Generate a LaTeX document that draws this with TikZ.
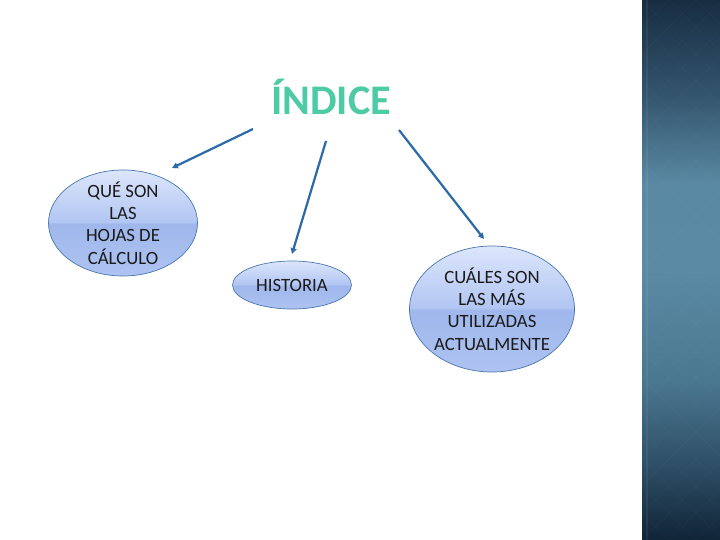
\documentclass[tikz,border=0pt]{standalone}
\usepackage{fontspec}
\setmainfont{Carlito}
\usepackage{xcolor}
\usepackage{tikz}
\usetikzlibrary{shapes.geometric,arrows.meta}
\definecolor{ink}{HTML}{1A1A1A}
\definecolor{arrowblue}{HTML}{2C6AA8}
\definecolor{edgeblue}{HTML}{4A78B0}
\definecolor{titlegreen}{HTML}{4CCBA5}
\definecolor{elltop}{HTML}{DCE6FB}
\definecolor{ellup}{HTML}{B2C6F3}
\definecolor{elllow}{HTML}{9FB7EC}
\definecolor{ellbot}{HTML}{AEC3F1}
\definecolor{panA}{HTML}{102437}
\definecolor{panB}{HTML}{2E4F66}
\definecolor{panC}{HTML}{4B7891}
\definecolor{panD}{HTML}{5A8AA4}
\definecolor{panE}{HTML}{5A89A3}
\definecolor{panF}{HTML}{34566E}
\definecolor{panG}{HTML}{172D42}
\pgfdeclareverticalshading{gloss}{100bp}{color(0bp)=(ellbot); color(25bp)=(ellbot);
  color(49.5bp)=(elllow); color(50.5bp)=(ellup); color(75bp)=(elltop); color(100bp)=(elltop)}
\pgfdeclareverticalshading{panel}{100bp}{color(0bp)=(panA); color(25bp)=(panA);
  color(32bp)=(panB); color(40bp)=(panC); color(50bp)=(panD); color(58bp)=(panE);
  color(66bp)=(panF); color(75bp)=(panG); color(100bp)=(panG)}
\tikzset{
  topic/.style={ellipse, draw=edgeblue, line width=0.6pt, shading=gloss, inner sep=0pt,
    align=center, text=ink, font=\fontsize{16}{19}\selectfont},
  link/.style={draw=arrowblue, line width=1.9pt, -{Triangle[length=5pt,width=5pt]}},
  title/.style={text=titlegreen, font=\fontsize{36}{40}\selectfont\bfseries},
  grid/.style={draw=white, opacity=0.025, line width=0.8pt},
}
\begin{document}
\begin{tikzpicture}[x=0.03cm,y=-0.03cm]
  \useasboundingbox (0,0) rectangle (720,540);
  \fill[white] (0,0) rectangle (720,540);

  % side panel
  \shade[shading=panel] (642,0) rectangle (720,540);
  \begin{scope}
    \clip (642,0) rectangle (720,540);
    \foreach \k in {-4,...,24}{
      \draw[grid] (642,\k*27) -- ++(100,100);
      \draw[grid] (642,\k*27) -- ++(100,-100);
    }
  \end{scope}
  \draw[draw=white, opacity=0.06, line width=1pt] (647,0) -- (647,540);

  \node[title] (indice) at (331,97) {ÍNDICE};

  \node[topic, inner ysep=-9pt, minimum width=4.47cm, minimum height=3.18cm] (hojas) at (123,223)
    {QUÉ SON\\LAS\\HOJAS DE\\CÁLCULO};
  \node[topic, minimum width=3.57cm, minimum height=1.44cm] (historia) at (292,285)
    {HISTORIA};
  \node[topic, minimum width=4.95cm, minimum height=3.78cm] (cuales) at (492,309)
    {CUÁLES SON\\LAS MÁS\\UTILIZADAS\\ACTUALMENTE};

  \coordinate (s1) at (253,129);
  \coordinate (e1) at (172,168);
  \coordinate (s2) at (326,141);
  \coordinate (e2) at (292,254);
  \coordinate (s3) at (399,130);
  \coordinate (e3) at (484,239);
  \foreach \i in {1,2,3}{
    \draw[link] (s\i) -- (e\i);
  }
\end{tikzpicture}
\end{document}
